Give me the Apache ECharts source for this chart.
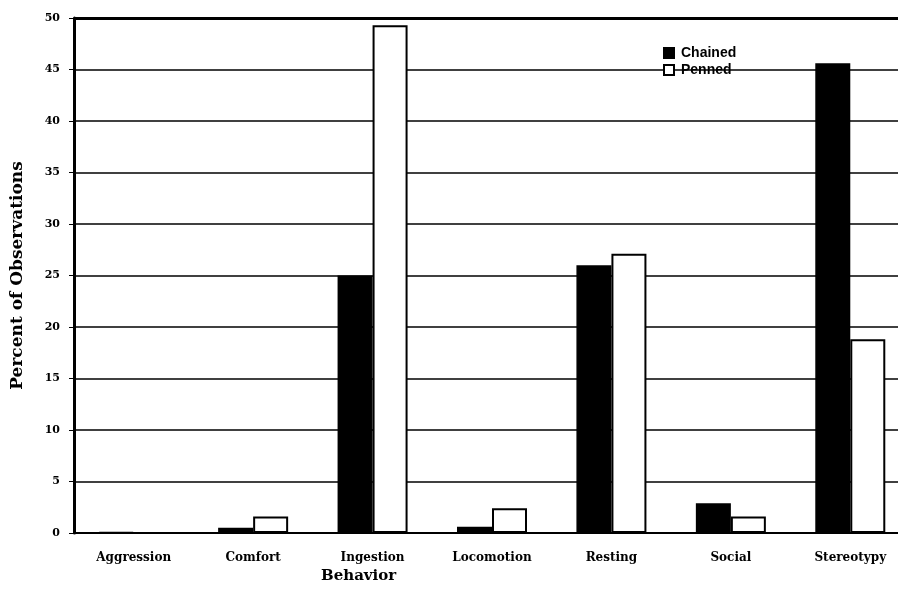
<!DOCTYPE html>
<html>
<head>
<meta charset="utf-8">
<script src="https://cdn.jsdelivr.net/npm/echarts@6/dist/echarts.min.js"></script>
<style>html,body{margin:0;padding:0;background:#fff;overflow:hidden;}#c{width:898px;height:597px;}</style>
</head>
<body>
<div id="c"></div>
<script>
var categories = ['Aggression', 'Comfort', 'Ingestion', 'Locomotion', 'Resting', 'Social', 'Stereotypy'];
var chained = [0.1, 0.5, 25.0, 0.6, 26.0, 2.9, 45.6];
var penned = [0.0, 1.6, 49.3, 2.4, 27.1, 1.6, 18.8];
var yTicks = [0, 5, 10, 15, 20, 25, 30, 35, 40, 45, 50];

var chart = echarts.init(document.getElementById('c'));
var serif = 'DejaVu Serif';
chart.setOption({
  animation: false,
  backgroundColor: '#fff',
  grid: { left: 74, width: 836, top: 18, bottom: 64, outerBoundsMode: 'none', containLabel: false },
  legend: {
    left: 658, top: 41, orient: 'vertical', itemGap: 3,
    itemWidth: 10, itemHeight: 10,
    textStyle: { fontFamily: 'Liberation Sans', fontWeight: 'bold', fontSize: 14, color: '#000', padding: [0,0,0,2] },
    data: [
      { name: 'Chained', icon: 'rect' },
      { name: 'Penned', icon: 'rect' }
    ]
  },
  graphic: [{
    type: 'text', left: 321, top: 569,
    style: { text: 'Behavior', font: 'bold 15px "DejaVu Serif"', fill: '#000' }
  }],
  xAxis: {
    type: 'category', data: categories,
    axisLine: { lineStyle: { color: '#000', width: 2 } },
    axisTick: { show: false },
    axisLabel: { fontFamily: serif, fontWeight: 'bold', fontSize: 12, color: '#000', margin: 19 }
  },
  yAxis: {
    type: 'value', min: 0, max: 50, interval: 5,
    name: 'Percent of Observations', nameLocation: 'middle', nameGap: 48,
    nameTextStyle: { fontFamily: serif, fontWeight: 'bold', fontSize: 17, color: '#000' },
    axisLine: { show: true, lineStyle: { color: '#000', width: 3 } },
    axisTick: { show: true, length: 5, lineStyle: { color: '#000' } },
    axisLabel: { fontFamily: serif, fontWeight: 'bold', fontSize: 11, color: '#000', margin: 14,
      formatter: function (v) { return yTicks.indexOf(v) >= 0 ? String(v) : ''; } },
    splitLine: { show: true, lineStyle: { color: '#000', width: 1.5 } }
  },
  series: [
    { name: 'Chained', type: 'bar', data: chained, barWidth: 35, barGap: '0%',
      itemStyle: { color: '#000', borderColor: '#000', borderWidth: 1.5 } },
    { name: 'Penned', type: 'bar', data: penned, barWidth: 35,
      itemStyle: { color: '#fff', borderColor: '#000', borderWidth: 2 },
      markLine: { silent: true, symbol: 'none', label: { show: false },
        lineStyle: { color: '#000', width: 3, type: 'solid' },
        data: [{ yAxis: 50 }] } }
  ]
});
</script>
</body>
</html>
